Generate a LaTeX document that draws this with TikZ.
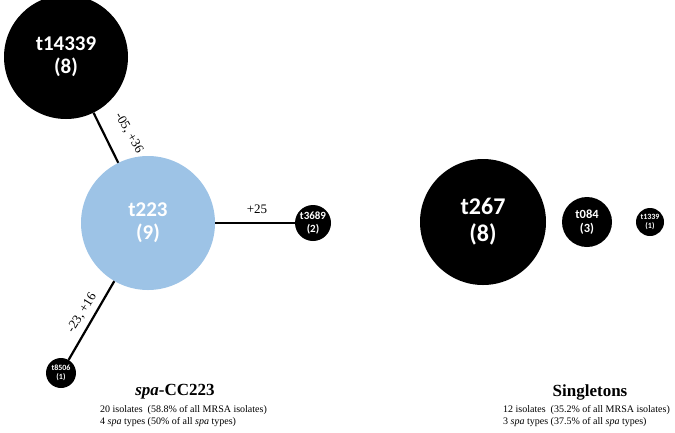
\documentclass[tikz,border=0pt]{standalone}
\usepackage{fontspec}
\setmainfont{Liberation Serif}
\newfontfamily\lab{Carlito}
\begin{document}
\begin{tikzpicture}[x=1pt,y=1pt,
  blob/.style={circle,fill=black,inner sep=0pt,minimum size=#1,text=white,align=center},
  edge/.style={line width=2.2pt},
  elab/.style={font=\fontsize{13}{15}\selectfont,inner sep=1pt}]
\useasboundingbox (0,0) rectangle (675,-432);
\node[blob=124pt,font=\lab\bfseries\fontsize{21}{23}\selectfont] (a) at (66,-57) {t14339\\(8)};
\node[blob=134pt,fill={rgb,255:red,157;green,195;blue,230},font=\lab\bfseries\fontsize{21}{23}\selectfont] (b) at (148,-223) {t223\\(9)};
\node[blob=36pt,font=\lab\bfseries\fontsize{11}{13}\selectfont] (c) at (313,-223) {t3689\\(2)};
\node[blob=30pt,font=\lab\bfseries\fontsize{8}{9.5}\selectfont] (d) at (61,-373) {t8506\\(1)};
\node[blob=126pt,font=\lab\bfseries\fontsize{24}{27}\selectfont] (e) at (483,-222) {t267\\(8)};
\node[blob=50pt,font=\lab\bfseries\fontsize{12.5}{14.5}\selectfont] (f) at (587,-222) {t084\\(3)};
\node[blob=28pt,font=\lab\bfseries\fontsize{8}{9}\selectfont] (g) at (650,-222) {t1339\\(1)};
\draw[edge] (a) -- (b);
\draw[edge] (b) -- (c);
\draw[edge] (d) -- (b);
\node[elab,rotate=-60] (l1) at (129,-133) {-05, +36};
\node[elab] (l2) at (257,-209) {+25};
\node[elab,rotate=58] (l3) at (82,-313) {-23, +16};
\node[font=\bfseries\fontsize{17}{20}\selectfont] (t1) at (175,-392) {\textit{spa}-CC223};
\node[anchor=west,font=\fontsize{10}{12}\selectfont,align=left,inner sep=0pt] (s1) at (100,-416) {20 isolates\ \ (58.8\% of all\ MRSA isolates)\\4 \textit{spa} types\ (50\% of all\ \textit{spa} types)};
\node[font=\bfseries\fontsize{17}{20}\selectfont] (t2) at (590,-392) {Singletons};
\node[anchor=west,font=\fontsize{10}{12}\selectfont,align=left,inner sep=0pt] (s2) at (503,-416) {12 isolates\ \ (35.2\% of all\ MRSA isolates)\\3 \textit{spa} types\ (37.5\% of all\ \textit{spa} types)};
\end{tikzpicture}
\end{document}
